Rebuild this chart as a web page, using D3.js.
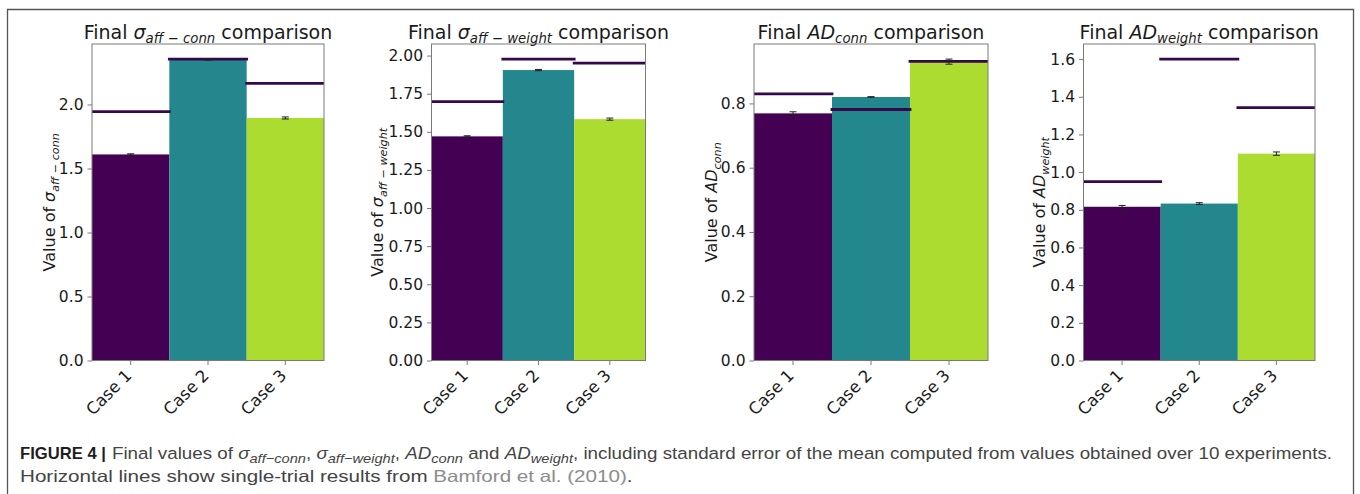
<!DOCTYPE html>
<html>
<head>
<meta charset="utf-8">
<script src="https://cdn.jsdelivr.net/npm/d3@7/dist/d3.min.js"></script>
<style>
  body { margin: 0; background: #fff; }
  text { white-space: pre; }
</style>
</head>
<body>
<svg id="fig" width="1360" height="494"></svg>
<script>
// ---- data ---------------------------------------------------------------
const cases = ["Case 1", "Case 2", "Case 3"];

// sigma_aff-conn: mean over 10 experiments, its SEM, single-trial reference
const sigmaConnMean = [1.61, 2.35, 1.895];
const sigmaConnSem  = [0.005, 0.004, 0.008];
const sigmaConnRef  = [1.945, 2.355, 2.165];
const sigmaConnTicks = [0, 0.5, 1.0, 1.5, 2.0];

// sigma_aff-weight
const sigmaWeightMean = [1.47, 1.905, 1.583];
const sigmaWeightSem  = [0.004, 0.004, 0.007];
const sigmaWeightRef  = [1.698, 1.977, 1.950];
const sigmaWeightTicks = [0, 0.25, 0.5, 0.75, 1.0, 1.25, 1.5, 1.75, 2.0];

// AD_conn
const adConnMean = [0.769, 0.820, 0.930];
const adConnSem  = [0.005, 0.001, 0.008];
const adConnRef  = [0.830, 0.781, 0.931];
const adConnTicks = [0, 0.2, 0.4, 0.6, 0.8];

// AD_weight
const adWeightMean = [0.816, 0.833, 1.098];
const adWeightSem  = [0.007, 0.005, 0.009];
const adWeightRef  = [0.950, 1.600, 1.342];
const adWeightTicks = [0, 0.2, 0.4, 0.6, 0.8, 1.0, 1.2, 1.4, 1.6];

// ---- styling --------------------------------------------------------------
const barColors = ["#440154", "#24878e", "#addc30"];
const refColor = "#36084b";
const spineColor = "#7a7a7a";
const inkColor = "#1a1a1a";
const FONT = "'DejaVu Sans', sans-serif";

const svg = d3.select("#fig");

// outer frame (top, left and right rules)
svg.append("path")
  .attr("d", "M7.5,494 V9.5 H1353.5 V494")
  .attr("fill", "none").attr("stroke", "#555").attr("stroke-width", 1.3);

// append rich text made of segments: {t, i (italic), sub (subscript), b, fill}
function rich(sel, segs, size, subScale, subShift) {
  let cur = 0;
  segs.forEach(s => {
    const off = s.sub ? size * subShift : 0;
    const ts = sel.append("tspan")
      .attr("dy", off - cur)
      .attr("font-size", s.sub ? size * subScale : size)
      .attr("font-style", s.i ? "italic" : "normal")
      .attr("font-weight", s.b ? "bold" : "normal")
      .text(s.t);
    if (s.fill) ts.attr("fill", s.fill);
    cur = off;
  });
}

const sigmaSym = (sub) => [{t: "σ", i: true}, ...sub];
const adSym = (sub) => [{t: "AD", i: true}, ...sub];

const panels = [
  {
    mean: sigmaConnMean, sem: sigmaConnSem, ref: sigmaConnRef, ticks: sigmaConnTicks, fmt: ".1f",
    sym: sigmaSym([{t: "aff", i: true, sub: true}, {t: " − ", sub: true}, {t: "conn", i: true, sub: true}]),
    left: 92, right: 324, ylabX: 55
  },
  {
    mean: sigmaWeightMean, sem: sigmaWeightSem, ref: sigmaWeightRef, ticks: sigmaWeightTicks, fmt: ".2f",
    sym: sigmaSym([{t: "aff", i: true, sub: true}, {t: " − ", sub: true}, {t: "weight", i: true, sub: true}]),
    left: 431.5, right: 645.5, ylabX: 383
  },
  {
    mean: adConnMean, sem: adConnSem, ref: adConnRef, ticks: adConnTicks, fmt: ".1f",
    sym: adSym([{t: "conn", i: true, sub: true}]),
    left: 754, right: 988, ylabX: 717
  },
  {
    mean: adWeightMean, sem: adWeightSem, ref: adWeightRef, ticks: adWeightTicks, fmt: ".1f",
    sym: adSym([{t: "weight", i: true, sub: true}]),
    left: 1083.5, right: 1315, ylabX: 1045
  }
];

const TOP = 44, BOTTOM = 360.5;

panels.forEach((p, k) => {
  const g = svg.append("g");
  const top = d3.max(cases, (c, i) => Math.max(p.ref[i], p.mean[i] + p.sem[i])) * 1.05;
  const y = d3.scaleLinear().domain([0, top]).range([BOTTOM, TOP]);
  const x = d3.scaleBand().domain(cases).range([p.left, p.right]).padding(0);

  const clipId = "clip" + k;
  svg.append("clipPath").attr("id", clipId)
    .append("rect").attr("x", p.left).attr("y", TOP)
    .attr("width", p.right - p.left).attr("height", BOTTOM - TOP);

  // bars
  g.selectAll("rect.bar").data(cases).join("rect")
    .attr("class", "bar")
    .attr("x", c => x(c))
    .attr("width", x.bandwidth())
    .attr("y", (c, i) => y(p.mean[i]))
    .attr("height", (c, i) => y(0) - y(p.mean[i]))
    .attr("fill", (c, i) => barColors[i]);

  // single-trial reference lines
  g.append("g").attr("clip-path", `url(#${clipId})`)
    .selectAll("line").data(cases).join("line")
    .attr("x1", c => x(c))
    .attr("x2", c => x(c) + x.bandwidth())
    .attr("y1", (c, i) => y(p.ref[i]))
    .attr("y2", (c, i) => y(p.ref[i]))
    .attr("stroke", refColor).attr("stroke-width", 2.8)
    .attr("stroke-linecap", "square");

  // standard-error bars
  const eb = g.append("g").attr("stroke", "#222").attr("stroke-width", 1);
  cases.forEach((c, i) => {
    const cx = x(c) + x.bandwidth() / 2;
    const y1 = y(p.mean[i] - p.sem[i]), y2 = y(p.mean[i] + p.sem[i]);
    eb.append("line").attr("x1", cx).attr("x2", cx).attr("y1", y1).attr("y2", y2);
    [y1, y2].forEach(yy => eb.append("line")
      .attr("x1", cx - 3.5).attr("x2", cx + 3.5).attr("y1", yy).attr("y2", yy));
  });

  // spines
  g.append("rect")
    .attr("x", p.left).attr("y", TOP)
    .attr("width", p.right - p.left).attr("height", BOTTOM - TOP)
    .attr("fill", "none").attr("stroke", spineColor).attr("stroke-width", 1);

  // y axis
  const ya = g.append("g").attr("transform", `translate(${p.left},0)`)
    .call(d3.axisLeft(y).tickValues(p.ticks).tickFormat(d3.format(p.fmt))
      .tickSize(4.5).tickPadding(4));
  ya.select(".domain").remove();
  ya.selectAll(".tick line").attr("stroke", spineColor);
  ya.selectAll(".tick text").attr("font-family", FONT).attr("font-size", 15.5)
    .attr("fill", inkColor);

  // x axis
  const xa = g.append("g").attr("transform", `translate(0,${BOTTOM})`)
    .call(d3.axisBottom(x).tickSize(4.5).tickFormat(""));
  xa.select(".domain").remove();
  xa.selectAll(".tick line").attr("stroke", spineColor);
  g.selectAll("text.xlab").data(cases).join("text")
    .attr("class", "xlab")
    .attr("transform", c => `translate(${x(c) + x.bandwidth() / 2 + 2},${BOTTOM + 16}) rotate(-45)`)
    .attr("text-anchor", "end")
    .attr("font-family", FONT).attr("font-size", 16.5).attr("fill", inkColor)
    .text(c => c);

  // title
  const t = g.append("text")
    .attr("x", (p.left + p.right) / 2).attr("y", 39)
    .attr("text-anchor", "middle")
    .attr("font-family", FONT).attr("fill", inkColor);
  rich(t, [{t: "Final "}, ...p.sym, {t: " comparison"}], 19, 0.7, 0.22);

  // y label
  const yl = g.append("text")
    .attr("transform", `translate(${p.ylabX},${(TOP + BOTTOM) / 2}) rotate(-90)`)
    .attr("text-anchor", "middle")
    .attr("font-family", FONT).attr("fill", inkColor);
  rich(yl, [{t: "Value of "}, ...p.sym], 16, 0.7, 0.22);
});

// ---- caption ---------------------------------------------------------------
const CAP_FONT = "'Liberation Sans', Arial, sans-serif";
const CAP_SIZE = 16.5;
const cap = svg.append("g").attr("fill", "#444").attr("font-family", CAP_FONT);

// place a text run so that it spans [x0, x1] on baseline yb
function fitRun(segs, x0, x1, yb) {
  const el = cap.append("text").attr("x", 0).attr("y", 0);
  rich(el, segs, CAP_SIZE, 0.78, 0.22);
  const w = el.node().getComputedTextLength();
  el.attr("transform", `translate(${x0},${yb}) scale(${(x1 - x0) / w},1)`);
  return el;
}

fitRun([{t: "FIGURE 4 |", b: true, fill: "#1e1e1e"}], 20, 106, 459);
fitRun([
  {t: "Final values of "},
  {t: "σ", i: true}, {t: "aff−conn", i: true, sub: true}, {t: ", "},
  {t: "σ", i: true}, {t: "aff−weight", i: true, sub: true}, {t: ", "},
  {t: "AD", i: true}, {t: "conn", i: true, sub: true}, {t: " and "},
  {t: "AD", i: true}, {t: "weight", i: true, sub: true},
  {t: ", including standard error of the mean computed from values obtained over 10 experiments."}
], 112, 1333, 459);
fitRun([
  {t: "Horizontal lines show single-trial results from "},
  {t: "Bamford et al. (2010)", fill: "#8c8c8c"},
  {t: "."}
], 20, 633, 482);
</script>
</body>
</html>
